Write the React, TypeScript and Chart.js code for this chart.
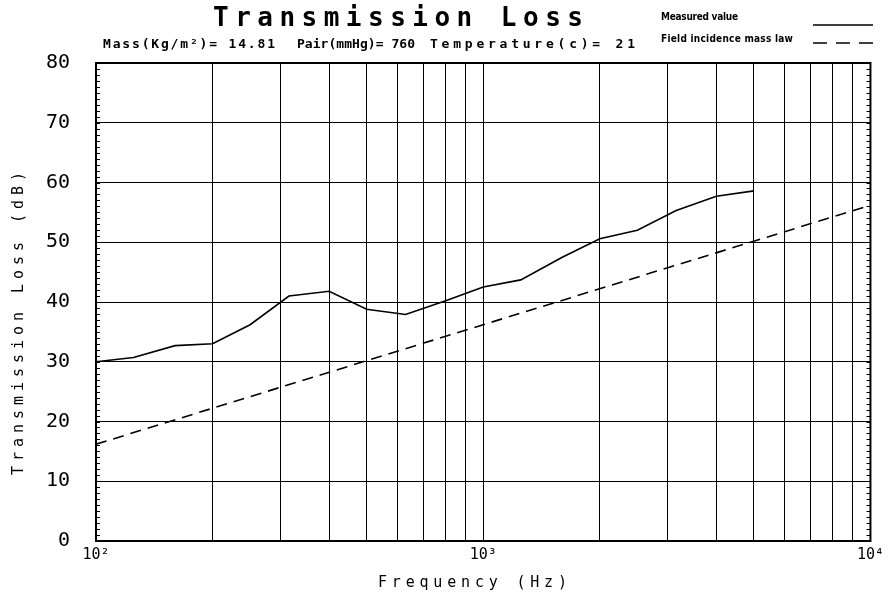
import { useEffect, useRef } from 'react';
import { Chart, registerables } from 'chart.js';

Chart.register(...registerables);

// ---- data ----
const frequencies = [100, 125, 160, 200, 250, 315, 400, 500, 630, 800, 1000, 1250, 1600, 2000, 2500, 3150, 4000, 5000];
const measuredTL = [30.0, 30.7, 32.7, 33.0, 36.2, 41.0, 41.8, 38.8, 37.9, 40.2, 42.5, 43.7, 47.5, 50.6, 52.0, 55.3, 57.7, 58.6];
const massLawFreqs = [100, 1000, 10000];
const massLawTL = [16.2, 36.2, 56.2];

const xGridValues = [100, 200, 300, 400, 500, 600, 700, 800, 900, 1000, 2000, 3000, 4000, 5000, 6000, 7000, 8000, 9000, 10000];
const xTickLabels: Record<number, string> = { 100: '10²', 1000: '10³', 10000: '10⁴' };
const yMin = 0;
const yMax = 80;
const yStep = 10;

const titleText = 'Transmission Loss';
const subtitleParts = ['Mass(Kg/m²)= 14.81', 'Pair(mmHg)= 760', 'Temperature(c)= 21'];
const legendLabels = ['Measured value', 'Field incidence mass law'];
const xTitle = 'Frequency (Hz)';
const yTitle = 'Transmission Loss (dB)';

const MONO = "'DejaVu Sans Mono', 'Liberation Mono', monospace";

function drawFit(ctx: CanvasRenderingContext2D, text: string, x: number, y: number, width: number, font: string) {
  ctx.save();
  ctx.font = font;
  (ctx as any).letterSpacing = '0px';
  ctx.textAlign = 'left';
  ctx.textBaseline = 'alphabetic';
  const n = Array.from(text).length;
  const w = ctx.measureText(text).width;
  const sp = n > 1 ? (width - w) / (n - 1) : 0;
  (ctx as any).letterSpacing = sp.toFixed(2) + 'px';
  ctx.fillText(text, x, y);
  ctx.restore();
}

const decorPlugin = {
  id: 'decor',
  afterDraw(chart: any) {
    const ctx: CanvasRenderingContext2D = chart.ctx;
    const { left, right, top, bottom } = chart.chartArea;
    ctx.save();
    ctx.strokeStyle = '#000';
    ctx.fillStyle = '#000';
    // frame
    ctx.lineWidth = 2;
    ctx.strokeRect(left, top, right - left, bottom - top);
    // minor ticks on left and right borders
    const ys = chart.scales.y;
    ctx.lineWidth = 1;
    ctx.beginPath();
    for (let v = yMin; v <= yMax; v++) {
      const py = Math.round(ys.getPixelForValue(v)) + 0.5;
      ctx.moveTo(left, py);
      ctx.lineTo(left + 4, py);
      ctx.moveTo(right - 4, py);
      ctx.lineTo(right, py);
    }
    ctx.stroke();

    // title and subtitle
    drawFit(ctx, titleText, 213, 26, 370, `bold 26px ${MONO}`);
    drawFit(ctx, subtitleParts[0], 103, 48, 172, `bold 13px ${MONO}`);
    drawFit(ctx, subtitleParts[1], 297, 48, 118, `bold 13px ${MONO}`);
    drawFit(ctx, subtitleParts[2], 430, 48, 205, `bold 13px ${MONO}`);

    // legend
    const LEG = "bold 10px 'DejaVu Sans Condensed', 'DejaVu Sans', sans-serif";
    drawFit(ctx, legendLabels[0], 661, 20, 77, LEG);
    drawFit(ctx, legendLabels[1], 661, 42, 132, LEG);
    ctx.lineWidth = 1.5;
    ctx.beginPath();
    ctx.moveTo(813, 25);
    ctx.lineTo(873, 25);
    ctx.stroke();
    ctx.setLineDash([14, 9]);
    ctx.beginPath();
    ctx.moveTo(813, 43);
    ctx.lineTo(873, 43);
    ctx.stroke();
    ctx.setLineDash([]);

    // axis titles
    drawFit(ctx, xTitle, 378, 587, 189, `15px ${MONO}`);
    ctx.save();
    ctx.translate(23, 475);
    ctx.rotate(-Math.PI / 2);
    drawFit(ctx, yTitle, 0, 0, 303, `15px ${MONO}`);
    ctx.restore();

    ctx.restore();
  },
};

export default function App() {
  const canvasRef = useRef<HTMLCanvasElement | null>(null);

  useEffect(() => {
    const canvas = canvasRef.current;
    if (!canvas) return;
    const chart = new Chart(canvas, {
      type: 'line',
      data: {
        datasets: [
          {
            label: legendLabels[0],
            data: frequencies.map((f, i) => ({ x: f, y: measuredTL[i] })),
            borderColor: '#000',
            borderWidth: 1.6,
            pointRadius: 0,
            tension: 0,
            fill: false,
          },
          {
            label: legendLabels[1],
            data: massLawFreqs.map((f, i) => ({ x: f, y: massLawTL[i] })),
            borderColor: '#000',
            borderWidth: 1.6,
            borderDash: [11, 7],
            pointRadius: 0,
            tension: 0,
            fill: false,
          },
        ],
      },
      options: {
        responsive: false,
        animation: false,
        devicePixelRatio: 1,
        layout: { padding: { top: 63, right: 17, bottom: 0, left: 0 } },
        plugins: {
          legend: { display: false },
          title: { display: false },
          tooltip: { enabled: false },
        },
        scales: {
          x: {
            type: 'logarithmic',
            min: 100,
            max: 10000,
            position: 'bottom',
            afterBuildTicks: (s: any) => {
              s.ticks = xGridValues.map((v) => ({ value: v }));
            },
            afterFit: (s: any) => {
              s.height = 55;
            },
            ticks: {
              autoSkip: false,
              maxRotation: 0,
              minRotation: 0,
              padding: 5,
              color: '#000',
              font: { family: MONO, size: 15 },
              callback: (v: any) => xTickLabels[Number(v)] ?? '',
            },
            grid: { color: '#000', lineWidth: 1, drawTicks: false },
            border: { display: false },
          },
          y: {
            type: 'linear',
            min: yMin,
            max: yMax,
            afterFit: (s: any) => {
              s.width = 96;
            },
            ticks: {
              stepSize: yStep,
              padding: 26,
              color: '#000',
              font: { family: MONO, size: 20 },
            },
            grid: { color: '#000', lineWidth: 1, drawTicks: false },
            border: { display: false },
          },
        },
      },
      plugins: [decorPlugin],
    } as any);
    return () => chart.destroy();
  }, []);

  return (
    <div style={{ position: 'fixed', left: 0, top: 0, width: 889, height: 596, background: '#fff' }}>
      <canvas ref={canvasRef} width={889} height={596} style={{ display: 'block' }} />
    </div>
  );
}
